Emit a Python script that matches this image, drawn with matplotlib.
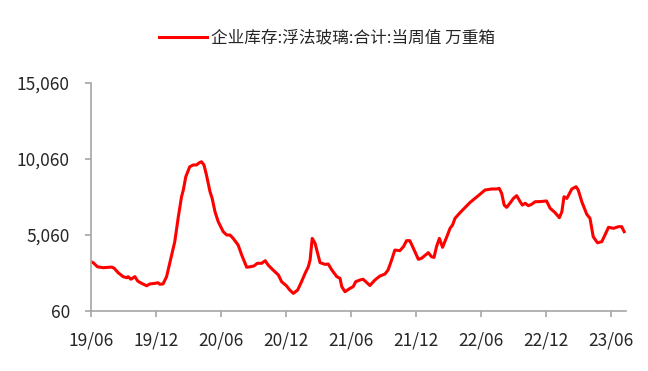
import matplotlib
matplotlib.use("Agg")
import matplotlib.pyplot as plt
import matplotlib.dates as mdates
from matplotlib.ticker import FuncFormatter
import pandas as pd

# 企业库存:浮法玻璃:合计:当周值 (万重箱)
dates = [
    "2019-06-02", "2019-06-08", "2019-06-20", "2019-07-06", "2019-07-30", "2019-08-06",
    "2019-08-17", "2019-08-31", "2019-09-10", "2019-09-14", "2019-09-22", "2019-10-03",
    "2019-10-11", "2019-10-22", "2019-11-05", "2019-11-14", "2019-11-28", "2019-12-07",
    "2019-12-12", "2019-12-21", "2019-12-31", "2020-01-12", "2020-01-23", "2020-02-02",
    "2020-02-11", "2020-02-16", "2020-02-23", "2020-03-05", "2020-03-15", "2020-03-24",
    "2020-04-01", "2020-04-07", "2020-04-14", "2020-04-21", "2020-05-01", "2020-05-07",
    "2020-05-15", "2020-05-24", "2020-06-07", "2020-06-17", "2020-06-26", "2020-07-05",
    "2020-07-19", "2020-07-29", "2020-08-12", "2020-08-21", "2020-09-01", "2020-09-11",
    "2020-09-23", "2020-10-03", "2020-10-11", "2020-10-25", "2020-11-09", "2020-11-18",
    "2020-12-02", "2020-12-11", "2020-12-21", "2021-01-02", "2021-01-13", "2021-01-23",
    "2021-02-01", "2021-02-06", "2021-02-12", "2021-02-20", "2021-03-06", "2021-03-20",
    "2021-03-29", "2021-04-08", "2021-04-22", "2021-05-01", "2021-05-06", "2021-05-15",
    "2021-05-29", "2021-06-07", "2021-06-14", "2021-06-26", "2021-07-05", "2021-07-24",
    "2021-08-07", "2021-08-21", "2021-09-04", "2021-09-13", "2021-09-23", "2021-10-02",
    "2021-10-16", "2021-10-26", "2021-11-04", "2021-11-13", "2021-11-23", "2021-12-07",
    "2021-12-16", "2022-01-04", "2022-01-13", "2022-01-20", "2022-01-27", "2022-02-04",
    "2022-02-13", "2022-02-25", "2022-03-06", "2022-03-13", "2022-03-20", "2022-04-03",
    "2022-04-17", "2022-05-01", "2022-05-15", "2022-05-29", "2022-06-12", "2022-07-01",
    "2022-07-15", "2022-07-22", "2022-07-29", "2022-08-05", "2022-08-12", "2022-08-21",
    "2022-08-31", "2022-09-09", "2022-09-19", "2022-09-25", "2022-10-03", "2022-10-12",
    "2022-10-21", "2022-10-31", "2022-11-14", "2022-12-02", "2022-12-12", "2022-12-26",
    "2023-01-07", "2023-01-14", "2023-01-20", "2023-01-28", "2023-02-11", "2023-02-23",
    "2023-03-01", "2023-03-11", "2023-03-25", "2023-04-03", "2023-04-12", "2023-04-24",
    "2023-05-06", "2023-05-15", "2023-05-25", "2023-06-08", "2023-06-22", "2023-07-01",
    "2023-07-08",
]
stock = [
    3280, 3220, 2950, 2890, 2930, 2850,
    2560, 2300, 2230, 2300, 2130, 2300,
    2010, 1860, 1700, 1820, 1860, 1900,
    1800, 1820, 2300, 3510, 4600, 6240,
    7560, 8000, 8880, 9530, 9650, 9650,
    9800, 9860, 9650, 8990, 7890, 7450,
    6570, 5920, 5260, 5040, 5040, 4820,
    4380, 3720, 2920, 2950, 3000, 3180,
    3180, 3350, 3070, 2740, 2410, 1970,
    1690, 1420, 1200, 1420, 1970, 2520,
    2950, 3400, 4820, 4490, 3220, 3110,
    3130, 2740, 2300, 2190, 1640, 1310,
    1530, 1640, 1970, 2080, 2130, 1720,
    2080, 2340, 2470, 2740, 3400, 4050,
    4010, 4270, 4670, 4670, 4170, 3440,
    3510, 3880, 3610, 3570, 4270, 4820,
    4230, 4930, 5480, 5700, 6140, 6510,
    6850, 7180, 7450, 7720, 8000, 8070,
    8070, 8110, 7780, 7010, 6860, 7130,
    7450, 7630, 7230, 7010, 7130, 6970,
    7060, 7230, 7240, 7280, 6800, 6510,
    6180, 6570, 7560, 7450, 8070, 8220,
    8000, 7230, 6400, 6140, 4930, 4530,
    4600, 5040, 5550, 5480, 5590, 5590,
    5260,
]
yticks = [60, 5060, 10060, 15060]
xticks = ["2019-06-01", "2019-12-01", "2020-06-01", "2020-12-01", "2021-06-01",
          "2021-12-01", "2022-06-01", "2022-12-01", "2023-06-01"]
label = "企业库存:浮法玻璃:合计:当周值 万重箱"

plt.rcParams['font.family'] = ['Noto Sans CJK SC', 'DejaVu Sans']

fig = plt.figure(figsize=(6.48, 3.71), dpi=100)
ax = fig.add_axes([0.14, 0.1625, 0.826, 0.6145])

x = pd.to_datetime(dates)
ax.plot(x, stock, color='#FF0000', linewidth=2.2, label=label)

ax.set_ylim(yticks[0], yticks[-1])
ax.set_yticks(yticks)
ax.yaxis.set_major_formatter(FuncFormatter(lambda v, p: f"{int(v):,}"))

ax.set_xlim(pd.Timestamp("2019-06-01"), pd.Timestamp("2023-07-13"))
ax.set_xticks(pd.to_datetime(xticks))
ax.xaxis.set_major_formatter(mdates.DateFormatter("%y/%m"))

for side in ['top', 'right']:
    ax.spines[side].set_visible(False)
for side in ['left', 'bottom']:
    ax.spines[side].set_color('#A6A6A6')
    ax.spines[side].set_linewidth(1.2)

ax.tick_params(axis='both', direction='out', length=4, width=1.2, color='#A6A6A6',
               labelcolor='#262626', labelsize=12.5)
ax.tick_params(axis='y', pad=11)
ax.tick_params(axis='x', pad=11)

fig.legend(loc='center', bbox_to_anchor=(0.505, 0.898), frameon=False, fontsize=12,
           handlelength=2.9, handletextpad=0.25, labelcolor='#262626')

fig.savefig("out.png", dpi=100)
